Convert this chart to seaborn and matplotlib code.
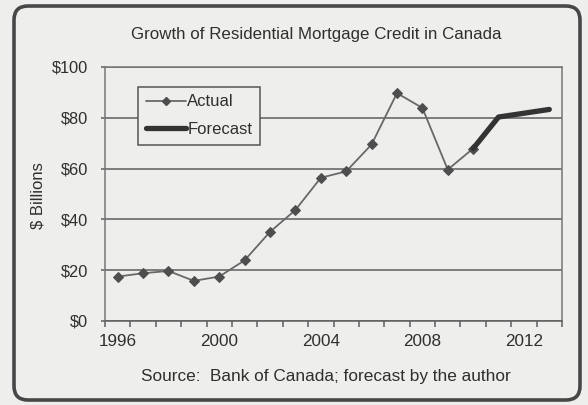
import matplotlib
matplotlib.use("Agg")
import matplotlib.pyplot as plt
from matplotlib.patches import FancyBboxPatch
from matplotlib.transforms import IdentityTransform
from matplotlib.lines import Line2D
import numpy as np
import pandas as pd
import seaborn as sns

# Residential mortgage credit growth, $ billions per year
actual_years = [1996, 1997, 1998, 1999, 2000, 2001, 2002, 2003, 2004,
                2005, 2006, 2007, 2008, 2009, 2010]
actual_values = [17.5, 18.8, 19.7, 15.8, 17.5, 23.9, 35.1, 43.7, 56.4,
                 58.9, 69.5, 89.7, 83.9, 59.6, 67.9]
forecast_years = [2010, 2011, 2012, 2013]
forecast_values = [67.9, 80.3, 81.8, 83.3]

tick_years = [1996, 2000, 2004, 2008, 2012]
y_ticks = [0, 20, 40, 60, 80, 100]

title_text = "Growth of Residential Mortgage Credit in Canada"
source_text = "Source:  Bank of Canada; forecast by the author"
y_label = "$ Billions"

sns.set_theme(style="white")
plt.rcParams["font.family"] = ["Liberation Sans", "DejaVu Sans"]

BG = "#eeeeec"
TXT = "#2f2f2f"
GRID = "#5e5e5e"

actual_df = pd.DataFrame({"year": actual_years, "value": actual_values})
forecast_df = pd.DataFrame({"year": forecast_years, "value": forecast_values})

fig = plt.figure(figsize=(5.88, 4.05), dpi=100, facecolor=BG)
ax = fig.add_axes([105 / 588, 1 - 321 / 405, 457 / 588, 254 / 405])
ax.set_facecolor(BG)

sns.lineplot(data=actual_df, x="year", y="value", ax=ax, color="#686868",
             linewidth=1.3, marker="D", markersize=5.5,
             markerfacecolor="#4e4e4e", markeredgecolor="#4e4e4e", zorder=3)
sns.lineplot(data=forecast_df, x="year", y="value", ax=ax, color="#333333",
             linewidth=3.8, solid_capstyle="round", zorder=4)

ax.set_xlim(1995.5, 2013.5)
ax.set_ylim(0, 100)
ax.set_yticks(y_ticks)
ax.set_yticklabels([f"${v}" for v in y_ticks])
ax.set_xticks(tick_years)
ax.set_xticklabels([str(y) for y in tick_years])
ax.set_xticks(np.arange(1995.5, 2014.0, 1.0), minor=True)
ax.tick_params(axis="x", which="major", length=0, pad=9, labelsize=12.3,
               labelcolor=TXT)
ax.tick_params(axis="x", which="minor", length=4, width=1.1, color=GRID,
               direction="out", bottom=True)
ax.tick_params(axis="y", which="major", length=3, width=1.1, color=GRID,
               direction="out", left=True, pad=9, labelsize=11.8,
               labelcolor=TXT)
ax.yaxis.grid(True, color=GRID, linewidth=1.1)
ax.xaxis.grid(False)
ax.set_axisbelow(True)
for side in ["left", "right", "top", "bottom"]:
    ax.spines[side].set_visible(True)
    ax.spines[side].set_color("#777777")
    ax.spines[side].set_linewidth(1.1)
ax.spines["bottom"].set_color(GRID)
ax.set_xlabel("")
ax.set_ylabel("")

handles = [
    Line2D([], [], color="#686868", linewidth=1.3, marker="D", markersize=4,
           markerfacecolor="#4e4e4e", markeredgecolor="#4e4e4e"),
    Line2D([], [], color="#333333", linewidth=3.8),
]
leg = ax.legend(handles, ["Actual", "Forecast"], loc="upper left",
                bbox_to_anchor=(33 / 457, 1 - 20 / 254), fontsize=12,
                frameon=True, fancybox=False, handlelength=2.4,
                handletextpad=0.1, borderpad=0.45, labelspacing=0.75,
                borderaxespad=0)
leg.get_frame().set_edgecolor("#555555")
leg.get_frame().set_linewidth(1.1)
leg.get_frame().set_facecolor(BG)
leg.get_frame().set_alpha(1)
for t in leg.get_texts():
    t.set_color(TXT)

fig.text(316 / 588, 1 - 35 / 405, title_text, ha="center", va="center",
         fontsize=12.2, color=TXT)
fig.text(326 / 588, 1 - 376 / 405, source_text, ha="center", va="center",
         fontsize=12.4, color=TXT)
fig.text(38.5 / 588, 1 - 196 / 405, y_label, ha="center", va="center",
         rotation=90, fontsize=12, color=TXT)

# rounded frame around the whole figure
frame = FancyBboxPatch((14, 5), 566, 394,
                       boxstyle="round,pad=0,rounding_size=14",
                       transform=IdentityTransform(), fill=False,
                       edgecolor="#474747", linewidth=2.6)
fig.patches.append(frame)

fig.savefig("out.png", dpi=100, facecolor=BG)
